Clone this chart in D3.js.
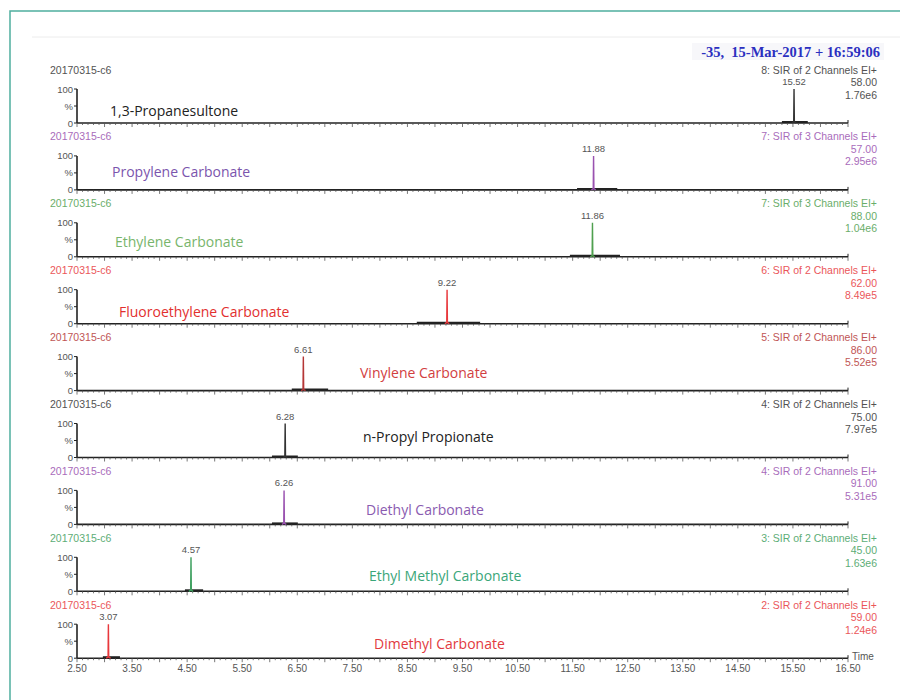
<!DOCTYPE html>
<html>
<head>
<meta charset="utf-8">
<script src="https://cdn.jsdelivr.net/npm/d3@7"></script>
<style>
  body { margin: 0; background: #fff; }
  svg { display: block; }
</style>
</head>
<body>
<div id="main-vis"></div>
<script>
// chart values
const sampleName = "20170315-c6"
const headerText = "-35,  15-Mar-2017 + 16:59:06"
const compounds = ["1,3-Propanesultone", "Propylene Carbonate", "Ethylene Carbonate",
    "Fluoroethylene Carbonate", "Vinylene Carbonate", "n-Propyl Propionate",
    "Diethyl Carbonate", "Ethyl Methyl Carbonate", "Dimethyl Carbonate"]
const retentionTimes = [15.52, 11.88, 11.86, 9.22, 6.61, 6.28, 6.26, 4.57, 3.07]
const peakHeights = [100, 100, 100, 100, 100, 100, 100, 100, 100]
const humpStart = [15.30, 11.58, 11.45, 8.67, 6.40, 6.04, 6.04, 4.46, 2.97]
const humpEnd = [15.77, 12.31, 12.36, 9.82, 7.06, 6.51, 6.51, 4.79, 3.28]
const functionLabels = ["8: SIR of 2 Channels EI+", "7: SIR of 3 Channels EI+", "7: SIR of 3 Channels EI+",
    "6: SIR of 2 Channels EI+", "5: SIR of 2 Channels EI+", "4: SIR of 2 Channels EI+",
    "4: SIR of 2 Channels EI+", "3: SIR of 2 Channels EI+", "2: SIR of 2 Channels EI+"]
const masses = ["58.00", "57.00", "88.00", "62.00", "86.00", "75.00", "91.00", "45.00", "59.00"]
const intensities = ["1.76e6", "2.95e6", "1.04e6", "8.49e5", "5.52e5", "7.97e5", "5.31e5", "1.63e6", "1.24e6"]
// spike shape: time offset from apex (min) and fraction of peak height
const spikeOffsets = [-0.04, -0.006, 0, 0.006, 0.04]
const spikeLevels = [0, 0.03, 1, 0.03, 0]
const xTickValues = [2.5, 3.5, 4.5, 5.5, 6.5, 7.5, 8.5, 9.5, 10.5, 11.5, 12.5, 13.5, 14.5, 15.5, 16.5]
const yTickLabels = ["100", "%", "0"]

// colours per trace
const traceColors = ["#333333", "#9a52b0", "#4fa04f", "#e8383c", "#b53636", "#333333", "#9a52b0", "#3fa060", "#e8383c"]
const nameColors = ["#222222", "#7b55ad", "#78b56c", "#e2302f", "#d2403f", "#222222", "#8a5bb0", "#3aa679", "#e23a40"]
// compound name placement (left x in px, offset above baseline)
const nameX = [110, 112, 115, 119, 360, 363, 366, 369, 374]
const nameDy = [-7, -13, -10, -7, -13, -16, -9, -10, -9]

const W = 900, H = 700
const x0 = 77, x1 = 848
const firstBase = 123, panelStep = 66.9, panelH = 34

function setup () {
    const div = d3.select('#main-vis')

    const svg = d3.create('svg')
        .attr('width', W)
        .attr('height', H)
        .style('font-family', 'Arial, "Liberation Sans", sans-serif')

    // outer frame
    svg.append('path')
        .attr('d', `M10,${H} L10,11 L${W},11`)
        .attr('fill', 'none')
        .attr('stroke', '#4fae9f')
        .attr('stroke-width', 1.5)
    svg.append('line')
        .attr('x1', 32).attr('x2', W).attr('y1', 37).attr('y2', 37)
        .attr('stroke', '#ececec')

    // header stamp
    svg.append('rect')
        .attr('x', 692).attr('y', 43).attr('width', 192).attr('height', 17)
        .attr('fill', '#f7f7fa')
    svg.append('text')
        .attr('x', 880).attr('y', 56.5)
        .attr('text-anchor', 'end')
        .attr('font-family', '"Liberation Serif", "DejaVu Serif", serif')
        .attr('font-weight', 'bold')
        .attr('font-size', 14.5)
        .attr('fill', '#2b2fc0')
        .attr('xml:space', 'preserve')
        .text(headerText)

    const x = d3.scaleLinear().domain([2.5, 16.5]).range([x0, x1])
    const minorTicks = d3.range(25, 166).map(d => d / 10)

    compounds.forEach((name, i) => {
        const base = firstBase + i * panelStep
        const y = d3.scaleLinear().domain([0, 100]).range([base, base - panelH])
        const g = svg.append('g')
        const col = traceColors[i]

        // sample name top-left
        g.append('text')
            .attr('x', 50).attr('y', base - 49.5)
            .attr('font-size', 10.5)
            .attr('fill', col)
            .attr('opacity', 0.85)
            .text(sampleName)

        // y axis
        g.append('line')
            .attr('x1', x0).attr('x2', x0)
            .attr('y1', y(100)).attr('y2', y(0))
            .attr('stroke', '#222').attr('stroke-width', 1.6)
        ;[100, 50, 0].forEach((v, k) => {
            g.append('line')
                .attr('x1', x0 - 3).attr('x2', x0)
                .attr('y1', y(v)).attr('y2', y(v))
                .attr('stroke', '#222')
            g.append('text')
                .attr('x', x0 - 4).attr('y', y(v) + 3.5)
                .attr('text-anchor', 'end')
                .attr('font-size', 9.5)
                .attr('fill', '#555')
                .text(yTickLabels[k])
        })

        // baseline with dense ticks
        g.append('line')
            .attr('x1', x0).attr('x2', x1)
            .attr('y1', base).attr('y2', base)
            .attr('stroke', '#222').attr('stroke-width', 1.6)
        g.selectAll('line.tk')
            .data(minorTicks)
            .join('line')
            .attr('class', 'tk')
            .attr('x1', d => x(d)).attr('x2', d => x(d))
            .attr('y1', base)
            .attr('y2', d => base + (Math.round(d * 10) % 5 === 0 ? 4 : 2))
            .attr('stroke', '#555')
            .attr('stroke-width', 0.8)
        g.append('line')
            .attr('x1', x1).attr('x2', x1)
            .attr('y1', base).attr('y2', base - 3)
            .attr('stroke', '#222')

        // dark hump around the peak base
        g.append('line')
            .attr('x1', x(humpStart[i])).attr('x2', x(humpEnd[i]))
            .attr('y1', base - 1).attr('y2', base - 1)
            .attr('stroke', '#222').attr('stroke-width', 2)

        // the peak
        const pts = spikeOffsets.map((o, k) => [retentionTimes[i] + o, spikeLevels[k] * peakHeights[i]])
        g.append('path')
            .datum(pts)
            .attr('d', d3.line().x(d => x(d[0])).y(d => y(d[1])))
            .attr('fill', 'none')
            .attr('stroke', col)
            .attr('stroke-width', 1.4)

        // peak label
        g.append('text')
            .attr('x', x(retentionTimes[i])).attr('y', base - 38)
            .attr('text-anchor', 'middle')
            .attr('font-size', 9.5)
            .attr('fill', '#555')
            .text(retentionTimes[i].toFixed(2))

        // right side info
        ;[functionLabels[i], masses[i], intensities[i]].forEach((t, k) => {
            g.append('text')
                .attr('x', 877).attr('y', base - 49.5 + k * 12.5)
                .attr('text-anchor', 'end')
                .attr('font-size', 10.5)
                .attr('fill', col)
                .attr('opacity', 0.85)
                .text(t)
        })

        // compound name
        g.append('text')
            .attr('x', nameX[i]).attr('y', base + nameDy[i])
            .attr('font-family', '"Open Sans", "Noto Sans", sans-serif')
            .attr('font-size', 14)
            .attr('fill', nameColors[i])
            .text(name)
    })

    // bottom time axis labels
    const lastBase = firstBase + (compounds.length - 1) * panelStep
    svg.selectAll('text.xt')
        .data(xTickValues)
        .join('text')
        .attr('class', 'xt')
        .attr('x', d => x(d)).attr('y', lastBase + 14)
        .attr('text-anchor', 'middle')
        .attr('font-size', 10)
        .attr('fill', '#555')
        .text(d => d.toFixed(2))
    svg.append('text')
        .attr('x', x1 + 4).attr('y', lastBase + 2)
        .attr('font-size', 10)
        .attr('fill', '#555')
        .text('Time')

    div.node().appendChild(svg.node())
}

setup()
</script>
</body>
</html>
